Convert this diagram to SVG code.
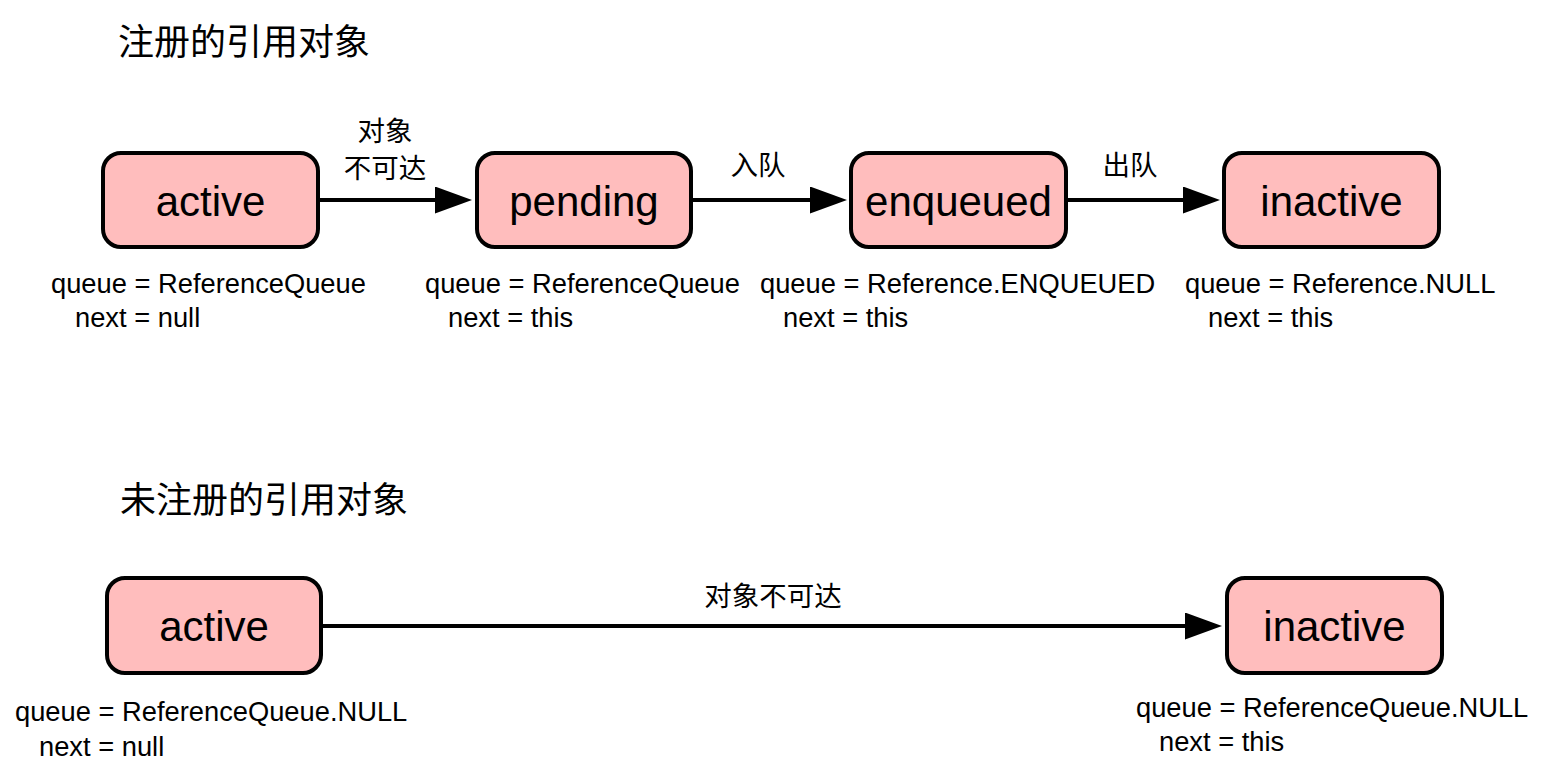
<svg xmlns="http://www.w3.org/2000/svg" width="1547" height="777" viewBox="0 0 1547 777">
<style>
.box{fill:#FFBDBD;stroke:#000;stroke-width:4}
.nt{font-family:"Liberation Sans",Arial,sans-serif;font-size:42px;text-anchor:middle;fill:#000}
.lb{font-family:"Liberation Sans",Arial,sans-serif;font-size:27.3px;fill:#000}
.cj{font-family:"Liberation Sans","Noto Sans CJK SC",sans-serif;font-size:27.5px;text-anchor:middle;fill:#000}
.tt{font-family:"Liberation Sans","Noto Sans CJK SC",sans-serif;font-size:36px;fill:#000}
.ln{stroke:#000;stroke-width:4;fill:none}
</style>
<defs>
<marker id="ah" markerUnits="userSpaceOnUse" markerWidth="40" markerHeight="30" refX="5" refY="13.5" orient="auto">
<path d="M0,0 L37,13.5 L0,27 z" fill="#000"/>
</marker>
</defs>
<rect width="1547" height="777" fill="#fff"/>
<text class="tt" x="118" y="55">注册的引用对象</text>
<text class="tt" x="120" y="513">未注册的引用对象</text>

<g id="connectors">
<line class="ln" x1="320" y1="200" x2="440" y2="200" marker-end="url(#ah)"/>
<line class="ln" x1="693" y1="200" x2="815" y2="200" marker-end="url(#ah)"/>
<line class="ln" x1="1068" y1="200" x2="1188" y2="200" marker-end="url(#ah)"/>
<line class="ln" x1="323" y1="626" x2="1190" y2="626" marker-end="url(#ah)"/>
<text class="cj" x="385" y="141">对象</text>
<text class="cj" x="385" y="178">不可达</text>
<text class="cj" x="758" y="175">入队</text>
<text class="cj" x="1130" y="175">出队</text>
<text class="cj" x="773" y="606">对象不可达</text>
</g>

<g id="n-active">
<rect class="box" x="103" y="153" width="215" height="94" rx="18"/>
<text class="nt" x="210.5" y="216">active</text>
<text class="lb" x="51" y="293">queue = ReferenceQueue</text>
<text class="lb" x="75" y="327">next = null</text>
</g>
<g id="n-pending">
<rect class="box" x="477" y="153" width="214" height="94" rx="18"/>
<text class="nt" x="584" y="216">pending</text>
<text class="lb" x="425" y="293">queue = ReferenceQueue</text>
<text class="lb" x="448" y="327">next = this</text>
</g>
<g id="n-enqueued">
<rect class="box" x="851" y="153" width="215" height="94" rx="18"/>
<text class="nt" x="958.5" y="216">enqueued</text>
<text class="lb" x="760" y="293">queue = Reference.ENQUEUED</text>
<text class="lb" x="783" y="327">next = this</text>
</g>
<g id="n-inactive">
<rect class="box" x="1224" y="153" width="215" height="94" rx="18"/>
<text class="nt" x="1331.5" y="216">inactive</text>
<text class="lb" x="1185" y="293">queue = Reference.NULL</text>
<text class="lb" x="1208" y="327">next = this</text>
</g>
<g id="n-active2">
<rect class="box" x="107" y="578" width="214" height="95" rx="18"/>
<text class="nt" x="214" y="641">active</text>
<text class="lb" x="15" y="721">queue = ReferenceQueue.NULL</text>
<text class="lb" x="39" y="756">next = null</text>
</g>
<g id="n-inactive2">
<rect class="box" x="1227" y="578" width="215" height="95" rx="18"/>
<text class="nt" x="1334.5" y="641">inactive</text>
<text class="lb" x="1136" y="717">queue = ReferenceQueue.NULL</text>
<text class="lb" x="1159" y="751">next = this</text>
</g>
</svg>
